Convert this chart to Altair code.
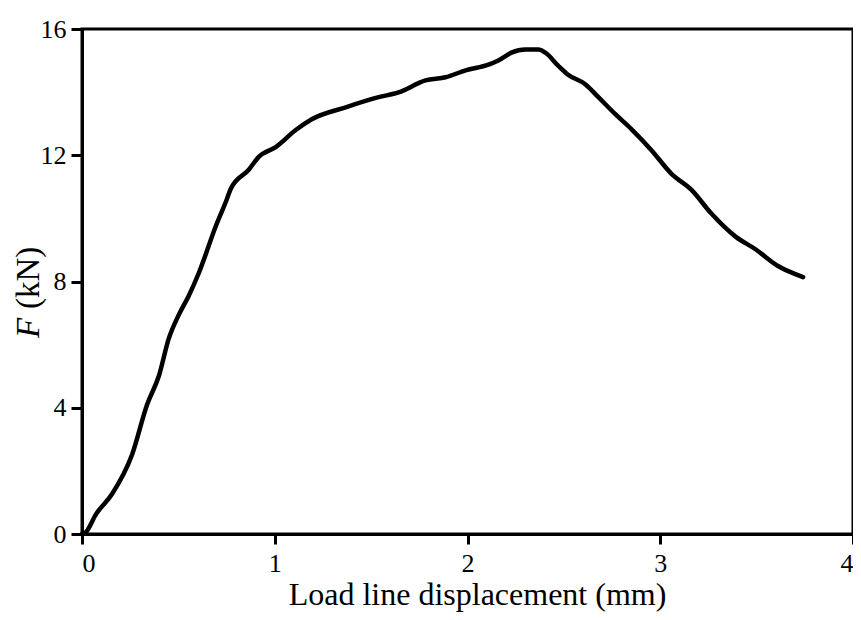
import altair as alt
import pandas as pd

# Load line displacement (mm)
disp = [0.0, 0.02, 0.073, 0.155, 0.26, 0.337, 0.40, 0.45, 0.50, 0.554, 0.606,
        0.694, 0.751, 0.772, 0.865, 0.917, 1.005, 1.109, 1.192, 1.368, 1.539,
        1.642, 1.782, 1.886, 1.99, 2.109, 2.16, 2.228, 2.30, 2.368, 2.404,
        2.47, 2.52, 2.611, 2.679, 2.767, 2.85, 2.953, 3.057, 3.161, 3.264,
        3.389, 3.492, 3.611, 3.741]
# Force F (kN)
force = [0.0, 0.06, 0.63, 1.26, 2.52, 4.09, 5.03, 6.19, 6.92, 7.55, 8.27,
         9.75, 10.6, 10.94, 11.54, 11.95, 12.26, 12.8, 13.14, 13.52, 13.84,
         13.99, 14.37, 14.47, 14.69, 14.87, 15.0, 15.25, 15.35, 15.35, 15.25,
         14.84, 14.56, 14.25, 13.84, 13.3, 12.83, 12.17, 11.42, 10.91, 10.16,
         9.43, 9.03, 8.49, 8.14]

x_ticks = [0, 1, 2, 3, 4]
y_ticks = [0, 4, 8, 12, 16]

df = pd.DataFrame({"d": disp, "F": force})

FONT = "Liberation Serif"

line = alt.Chart(df).mark_line(
    color="black", strokeWidth=4.5, strokeJoin="round", strokeCap="round",
    interpolate="monotone"
).encode(
    x=alt.X("d:Q", scale=alt.Scale(domain=[0, 4], nice=False),
            axis=alt.Axis(values=x_ticks, title="Load line displacement (mm)",
                          titleFont=FONT, titleFontSize=32, titleFontWeight="normal",
                          titleColor="black", titleX=395, titleY=70,
                          titleBaseline="alphabetic", titleAnchor="middle",
                          titleAlign="center",
                          labelFont=FONT, labelFontSize=26, labelPadding=6,
                          tickSize=10, labelBaseline="top", format="d")),
    y=alt.Y("F:Q", scale=alt.Scale(domain=[0, 16], nice=False),
            axis=alt.Axis(values=y_ticks, title=None, labelFont=FONT,
                          labelFontSize=26, labelPadding=5, tickSize=11,
                          format="d")),
    order="d:Q",
)

one = pd.DataFrame({"k": [0]})
tF = alt.Chart(one).mark_text(
    text="F", font=FONT, fontSize=33, fontStyle="italic", angle=270,
    align="left", baseline="alphabetic", color="black"
).encode(x=alt.value(-43), y=alt.value(309))
tU = alt.Chart(one).mark_text(
    text="(kN)", font=FONT, fontSize=33, angle=270,
    align="left", baseline="alphabetic", color="black"
).encode(x=alt.value(-43), y=alt.value(280))

chart = alt.layer(line, tF, tU).properties(
    width=771, height=505,
    padding={"left": 74, "top": 21, "right": 0, "bottom": 78},
    autosize=alt.AutoSizeParams(type="none"),
    background="white",
).configure_view(
    stroke="black", strokeWidth=3
).configure_axis(
    grid=False, domainColor="black", domainWidth=3, tickColor="black",
    tickWidth=3, labelColor="black", labelFont=FONT, labelFontWeight="normal",
)

chart.save("out.html", embed_options={"renderer": "svg", "actions": False})
